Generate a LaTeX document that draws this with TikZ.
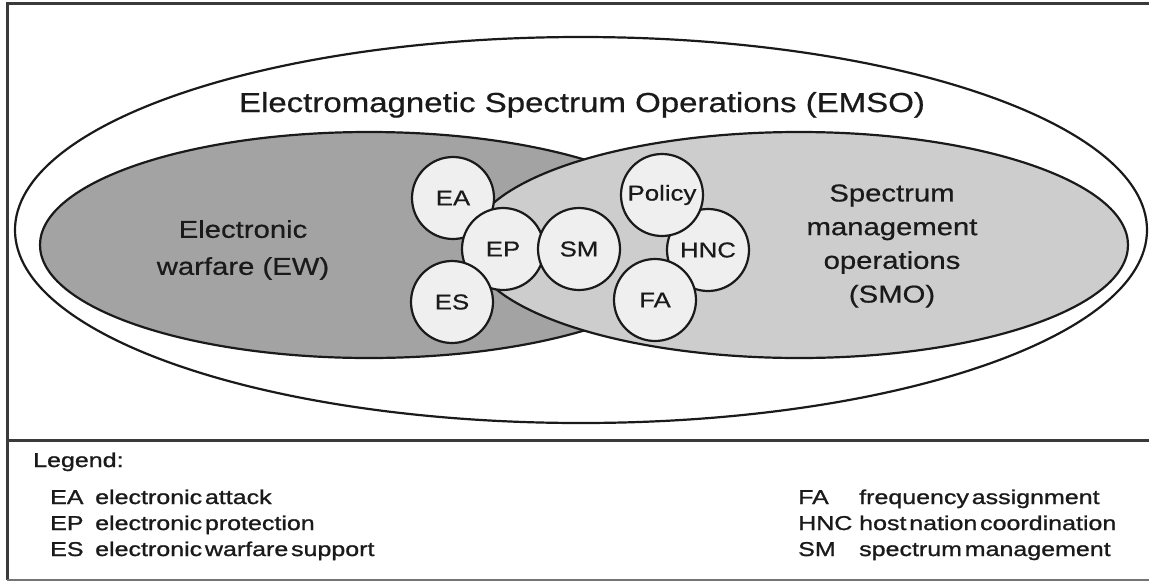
\documentclass[tikz,border=0pt]{standalone}
\usepackage{fontspec}
\setmainfont[FakeStretch=1.2,FakeBold=0.6]{Liberation Sans}
\newfontfamily\legendfont[FakeStretch=1.25,WordSpace=0.4,FakeBold=1.1]{Liberation Sans}
\definecolor{ewgray}{HTML}{A3A3A3}
\definecolor{smogray}{HTML}{CDCDCD}
\definecolor{circgray}{HTML}{EFEFEF}
\definecolor{inkc}{HTML}{1A1A1A}
\definecolor{framec}{HTML}{3A3A3A}
\tikzset{
  outl/.style={draw=inkc, line width=2.2pt},
  bubble/.style={circle, outl, fill=circgray, minimum size=82pt, inner sep=0pt,
    text=inkc, font=\fontsize{21.5}{24}\selectfont},
  bigtxt/.style={text=inkc, align=center, inner sep=0pt},
  legtxt/.style={text=inkc, anchor=base west, inner sep=0pt,
    font=\legendfont\fontsize{20}{24}\selectfont}
}
\begin{document}
\begin{tikzpicture}[x=1pt,y=-1pt]
\useasboundingbox (0,0) rectangle (1149,582);
\fill[white] (0,0) rectangle (1149,582);
% frame
\draw[framec, line width=2.6pt] (1155,3.3) -- (7.3,3.3) -- (7.3,580);
\draw[framec!70, line width=1.5pt] (7.3,580) -- (1155,580);
\draw[framec, line width=2.6pt] (7.3,440.5) -- (1155,440.5);
% ellipses
\draw[outl, fill=white] (581,230) ellipse [x radius=566, y radius=193];
\draw[outl, fill=ewgray] (369,245) ellipse [x radius=329, y radius=113];
\draw[outl, fill=smogray] (799,245) ellipse [x radius=329, y radius=113];
% texts
\node[bigtxt, anchor=base, font=\fontsize{27.5}{30}\selectfont] (emso) at (582,112) {Electromagnetic Spectrum Operations (EMSO)};
\node[bigtxt, font=\fontsize{24.4}{37}\selectfont] (ew) at (243,250) {Electronic\\warfare (EW)};
\node[bigtxt, font=\fontsize{24.4}{33.7}\selectfont] (smo) at (892,246) {Spectrum\\management\\operations\\(SMO)};
% bubbles
\node[bubble] (ea) at (453,198) {EA};
\node[bubble] (ep) at (503,249) {EP};
\node[bubble] (es) at (452,302) {ES};
\node[bubble] (sm) at (579,249) {SM};
\node[bubble] (hnc) at (708,250) {HNC};
\node[bubble] (policy) at (662,195) {Policy};
\node[bubble] (fa) at (655,300) {FA};
% legend
\node[legtxt] (leg) at (33,467) {Legend:};
\node[legtxt] (lea) at (50,504) {EA};
\node[legtxt] (lead) at (95,504) {electronic attack};
\node[legtxt] (lep) at (50,530) {EP};
\node[legtxt] (lepd) at (95,530) {electronic protection};
\node[legtxt] (les) at (50,556) {ES};
\node[legtxt] (lesd) at (95,556) {electronic warfare support};
\node[legtxt] (lfa) at (798,504) {FA};
\node[legtxt] (lfad) at (859,504) {frequency assignment};
\node[legtxt] (lhnc) at (798,530) {HNC};
\node[legtxt] (lhncd) at (859,530) {host nation coordination};
\node[legtxt] (lsm) at (798,556) {SM};
\node[legtxt] (lsmd) at (859,556) {spectrum management};
\end{tikzpicture}
\end{document}
